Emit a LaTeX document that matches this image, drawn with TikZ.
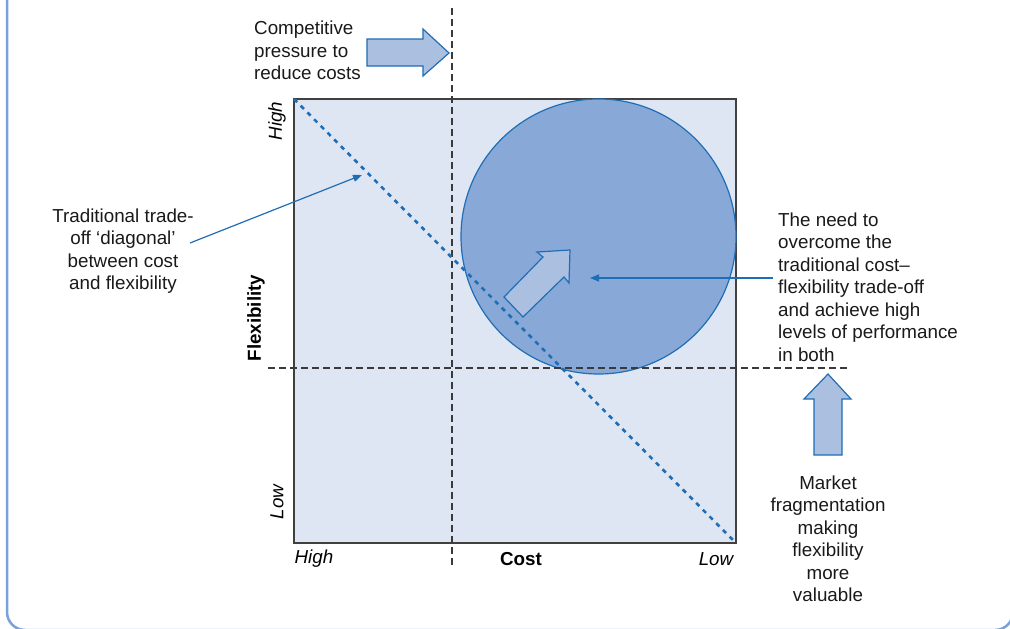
\documentclass[tikz,border=0pt]{standalone}
\usepackage{fontspec}
\setmainfont{Liberation Sans}
\usetikzlibrary{arrows.meta}
\definecolor{framecol}{HTML}{7BA1DA}
\definecolor{sqfill}{HTML}{DFE6F3}
\definecolor{circfill}{HTML}{88A9D7}
\definecolor{bluec}{HTML}{1F6DB5}
\definecolor{arrfill}{HTML}{ABBFE1}
\definecolor{dashc}{HTML}{3A3A3A}
\tikzset{
  txt/.style={font=\fontsize{18.8}{22.5}\selectfont, inner sep=0pt, text=black!90},
  ital/.style={font=\fontsize{18.8}{22}\selectfont\itshape, inner sep=0pt},
  boldl/.style={font=\fontsize{18.8}{22}\selectfont\bfseries, inner sep=0pt},
  guide/.style={dashc, line width=1.2pt, dash pattern=on 7pt off 4pt},
  blockarrow/.style={draw=bluec, fill=arrfill, line width=1.2pt, line join=miter},
  pointer/.style={bluec, line width=1.2pt, -{Triangle[length=9pt,width=7pt]}}
}
\begin{document}
\begin{tikzpicture}[x=1pt,y=-1pt]
\useasboundingbox (0,0) rectangle (1010,629);
\clip (0,0) rectangle (1010,629);
% frame
\draw[framecol, line width=2.5pt, rounded corners=18pt] (7,-40) -- (7,630) -- (1013,630) -- (1013,-40);
% square
\draw[fill=sqfill, draw=black!75, line width=1.2pt] (294,99) rectangle (736,543);
% circle
\node[circle, draw=bluec, fill=circfill, line width=1.2pt, minimum size=275pt, inner sep=0pt] (circ) at (598.5,236.5) {};
% guides
\draw[guide] (452,8) -- (452,568);
\draw[guide] (268,368) -- (850,368);
% diagonal
\coordinate (dA) at (294,99);
\coordinate (dB) at (736,543);
\draw[bluec, line width=2.6pt, dash pattern=on 4.5pt off 5pt] (dA) -- (dB);
% arrow inside circle
\draw[blockarrow] (504,297) -- (543,257) -- (537,252) -- (570,250) -- (569,283) -- (564,277) -- (523,317) -- cycle;
% top arrow
\draw[blockarrow] (367,39) -- (423,39) -- (423,29) -- (449,53) -- (423,76) -- (423,66) -- (367,66) -- cycle;
% right up arrow
\draw[blockarrow] (814,455) -- (814,399) -- (804,399) -- (828,374) -- (851,399) -- (842,399) -- (842,455) -- cycle;
% texts
\node[txt, anchor=north west, align=left] (comp) at (254,21) {Competitive\\pressure to\\reduce costs};
\node[txt, align=center] (trad) at (123,251) {Traditional trade-\\off ‘diagonal’\\between cost\\and flexibility};
\node[txt, align=left, anchor=west] (need) at (778,287) {The need to\\overcome the\\traditional cost–\\flexibility trade-off\\and achieve high\\levels of performance\\in both};
\node[txt, align=center] (mkt) at (828,539) {Market\\fragmentation\\making\\flexibility\\more\\valuable};
\node[boldl, rotate=90] (flex) at (256,318) {Flexibility};
\node[ital, rotate=90] (hiy) at (277,121) {High};
\node[ital, rotate=90] (loy) at (277,502) {Low};
\node[ital] (hix) at (314,559) {High};
\node[boldl] (costl) at (521,559) {Cost};
\node[ital] (lox) at (716,559) {Low};
% pointers
\coordinate (pd) at (362,175);
\coordinate (pc) at (590,278);
\draw[pointer] (190,243) -- (pd);
\draw[pointer] (773,278) -- (pc);
\end{tikzpicture}
\end{document}
